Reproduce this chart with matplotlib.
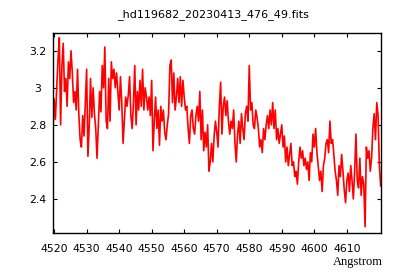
import numpy as np
import matplotlib
matplotlib.use("Agg")
import matplotlib.pyplot as plt
from matplotlib.ticker import FuncFormatter

# Spectrum, one value every 0.4 Angstrom starting at 4519.6
wave_start = 4519.6
wave_step = 0.4
flux = [
    2.74, 2.94, 2.83, 3.00, 3.15, 3.27, 2.80, 3.12, 3.24, 2.98,
    3.05, 2.90, 3.14, 3.05, 3.20, 3.08, 2.92, 2.98, 2.88, 3.10,
    2.86, 2.72, 2.68, 2.85, 2.74, 2.92, 3.10, 2.63, 2.80, 3.05,
    2.84, 3.00, 2.86, 2.78, 2.62, 2.80, 2.98, 2.87, 3.12, 3.00,
    3.22, 2.82, 2.78, 3.05, 2.82, 3.14, 3.05, 3.10, 3.00, 3.08,
    2.98, 2.88, 3.06, 2.92, 2.70, 2.82, 2.95, 2.90, 2.96, 3.06,
    2.85, 2.78, 2.92, 3.12, 2.80, 2.98, 2.88, 3.04, 2.90, 3.10,
    2.88, 3.00, 2.95, 2.88, 2.95, 2.85, 3.04, 2.66, 2.82, 2.95,
    2.78, 2.88, 2.69, 2.90, 2.82, 2.88, 2.76, 2.72, 2.80, 2.86,
    3.12, 3.15, 2.92, 3.08, 2.88, 2.95, 3.05, 2.92, 3.06, 2.90,
    3.04, 2.95, 2.88, 2.90, 2.78, 2.70, 2.85, 2.88, 2.78, 2.75,
    2.85, 2.90, 2.82, 2.98, 2.72, 2.88, 2.66, 2.76, 2.68, 2.80,
    2.55, 2.60, 2.70, 2.60, 2.74, 2.82, 2.76, 2.68, 2.90, 3.03,
    2.75, 2.90, 2.95, 2.85, 2.93, 2.82, 2.75, 2.82, 2.78, 2.88,
    2.70, 2.60, 2.75, 2.82, 2.70, 2.86, 2.78, 2.72, 2.86, 2.90,
    2.82, 3.12, 2.88, 2.92, 2.80, 2.78, 2.88, 2.84, 2.78, 2.68,
    2.72, 2.65, 2.78, 2.72, 2.80, 2.85, 2.78, 2.88, 2.80, 2.92,
    2.78, 2.88, 2.72, 2.78, 2.70, 2.75, 2.80, 2.68, 2.74, 2.60,
    2.68, 2.58, 2.64, 2.70, 2.58, 2.60, 2.52, 2.55, 2.48, 2.60,
    2.68, 2.62, 2.66, 2.58, 2.62, 2.56, 2.60, 2.50, 2.65, 2.60,
    2.75, 2.68, 2.78, 2.65, 2.58, 2.50, 2.55, 2.44, 2.58, 2.62,
    2.70, 2.72, 2.65, 2.82, 2.70, 2.72, 2.64, 2.55, 2.50, 2.42,
    2.58, 2.52, 2.64, 2.55, 2.45, 2.38, 2.50, 2.54, 2.44, 2.58,
    2.50, 2.40, 2.55, 2.75, 2.50, 2.46, 2.62, 2.42, 2.52, 2.48,
    2.25, 2.68, 2.62, 2.66, 2.55, 2.62, 2.78, 2.86, 2.72, 2.92,
    2.85, 2.58, 2.47,
]
wave = wave_start + wave_step * np.arange(len(flux))

x_ticks = [4520, 4530, 4540, 4550, 4560, 4570, 4580, 4590, 4600, 4610]
y_ticks = [2.4, 2.6, 2.8, 3.0, 3.2]
title = "_hd119682_20230413_476_49.fits"

fig = plt.figure(figsize=(4, 2.8), dpi=100)
ax = fig.add_axes([0.132, 0.167, 0.8205, 0.714])

ax.plot(wave, flux, color="red", linewidth=1.2)

ax.set_xlim(4519.6, 4620.5)
ax.set_ylim(2.215, 3.294)
ax.set_xticks(x_ticks)
ax.set_yticks(y_ticks)
ax.yaxis.set_major_formatter(FuncFormatter(lambda v, pos: "%g" % v))

# gnuplot look: inward ticks on all four sides
ax.tick_params(direction="in", length=3, width=0.8, top=True, right=True,
               labelsize=7.8, colors="black")
ax.tick_params(axis="x", pad=7.5)
ax.tick_params(axis="y", pad=11)
for lab in ax.get_yticklabels():
    lab.set_horizontalalignment("center")
for sp in ax.spines.values():
    sp.set_linewidth(1.0)

fig.text(0.533, 0.948, title, ha="center", va="center", fontsize=8)
fig.text(0.958, 0.064, "Angstrom", ha="right", va="center",
         fontsize=9, family="Liberation Serif")

fig.savefig("out.png", dpi=100)
